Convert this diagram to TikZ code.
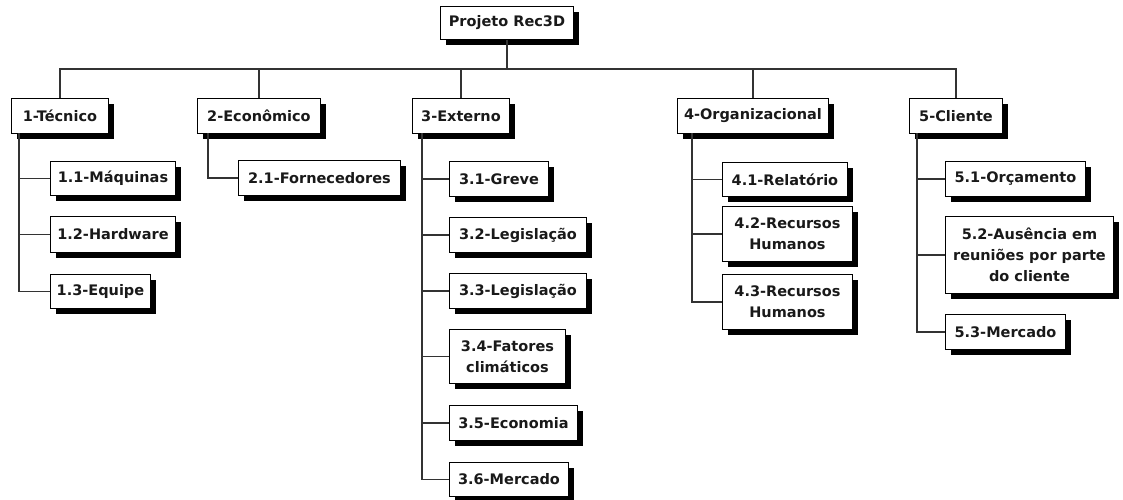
\documentclass[tikz,border=0pt]{standalone}
\usepackage{fontspec}
\newfontfamily\wbsfont{DejaVu Sans}
\usetikzlibrary{shadows}

\begin{document}
\begin{tikzpicture}
      [%%%%%%%%%%%%%%%%%%%%%%%%%%%%%%
          x=1pt, y=-1pt,
          item/.style={rectangle, draw=black, line width=0.9pt, fill=white,
              anchor=north west, align=center, inner sep=2pt, text=black!90,
              font=\wbsfont\bfseries\fontsize{14.5}{21}\selectfont,
              drop shadow={shadow xshift=6pt, shadow yshift=-6pt, fill=black, opacity=1}},
          link/.style={line width=1.1pt, draw=black!80}
      ]%%%%%%%%%%%%%%%%%%%%%%%%%%%%%%
  \useasboundingbox (0,0) rectangle (1123,500);

  % top
  \node[item, minimum width=133pt, minimum height=33pt] (root) at (440,6) {Projeto Rec3D};

  \node[item, minimum width=97pt,  minimum height=35pt] (t1) at (11,98)  {1-Técnico};
  \node[item, minimum width=123pt, minimum height=35pt] (t2) at (197,98) {2-Econômico};
  \node[item, minimum width=97pt,  minimum height=35pt] (t3) at (412,98) {3-Externo};
  \node[item, minimum width=151pt, minimum height=35pt] (t4) at (677,98) {4-Organizacional};
  \node[item, minimum width=93pt,  minimum height=35pt] (t5) at (909,98) {5-Cliente};

  % 1
  \node[item, minimum width=125pt, minimum height=34pt] (c11) at (50,161) {1.1-Máquinas};
  \node[item, minimum width=125pt, minimum height=36pt] (c12) at (50,216) {1.2-Hardware};
  \node[item, minimum width=100pt, minimum height=34pt] (c13) at (50,274) {1.3-Equipe};

  % 2
  \node[item, minimum width=162pt, minimum height=35pt] (c21) at (238,160) {2.1-Fornecedores};

  % 3
  \node[item, minimum width=99pt,  minimum height=35pt] (c31) at (449,161) {3.1-Greve};
  \node[item, minimum width=137pt, minimum height=35pt] (c32) at (449,217) {3.2-Legislação};
  \node[item, minimum width=137pt, minimum height=35pt] (c33) at (449,273) {3.3-Legislação};
  \node[item, minimum width=116pt, minimum height=54pt] (c34) at (449,329) {3.4-Fatores\\climáticos};
  \node[item, minimum width=128pt, minimum height=35pt] (c35) at (449,405) {3.5-Economia};
  \node[item, minimum width=119pt, minimum height=34pt] (c36) at (449,462) {3.6-Mercado};

  % 4
  \node[item, minimum width=125pt, minimum height=34pt] (c41) at (722,162) {4.1-Relatório};
  \node[item, minimum width=130pt, minimum height=55pt] (c42) at (722,206) {4.2-Recursos\\Humanos};
  \node[item, minimum width=130pt, minimum height=55pt] (c43) at (722,274) {4.3-Recursos\\Humanos};

  % 5
  \node[item, minimum width=140pt, minimum height=35pt] (c51) at (945,161) {5.1-Orçamento};
  \node[item, minimum width=168pt, minimum height=77pt] (c52) at (945,216) {5.2-Ausência em\\reuniões por parte\\do cliente};
  \node[item, minimum width=120pt, minimum height=35pt] (c53) at (945,314) {5.3-Mercado};

  % lines
  \coordinate (bus) at (0,69);
  \draw[link] (root.south) -- (root.south |- bus);
  \draw[link] (t1.north) -- (t1.north |- bus) -- (t5.north |- bus) -- (t5.north);
  \foreach \t in {t2,t3,t4}
      \draw[link] (\t.north) -- (\t.north |- bus);

  \coordinate (k1) at (19,133);
  \coordinate (k2) at (208,133);
  \coordinate (k3) at (422,133);
  \coordinate (k4) at (692,133);
  \coordinate (k5) at (917,133);

  \draw[link] (k1) |- (c13.west);
  \foreach \c in {c11,c12}
      \draw[link] (\c.west -| k1) -- (\c.west);

  \draw[link] (k2) |- (c21.west);

  \draw[link] (k3) |- (c36.west);
  \foreach \c in {c31,c32,c33,c34,c35}
      \draw[link] (\c.west -| k3) -- (\c.west);

  \draw[link] (k4) |- (c43.west);
  \foreach \c in {c41,c42}
      \draw[link] (\c.west -| k4) -- (\c.west);

  \draw[link] (k5) |- (c53.west);
  \foreach \c in {c51,c52}
      \draw[link] (\c.west -| k5) -- (\c.west);

\end{tikzpicture}
\end{document}
